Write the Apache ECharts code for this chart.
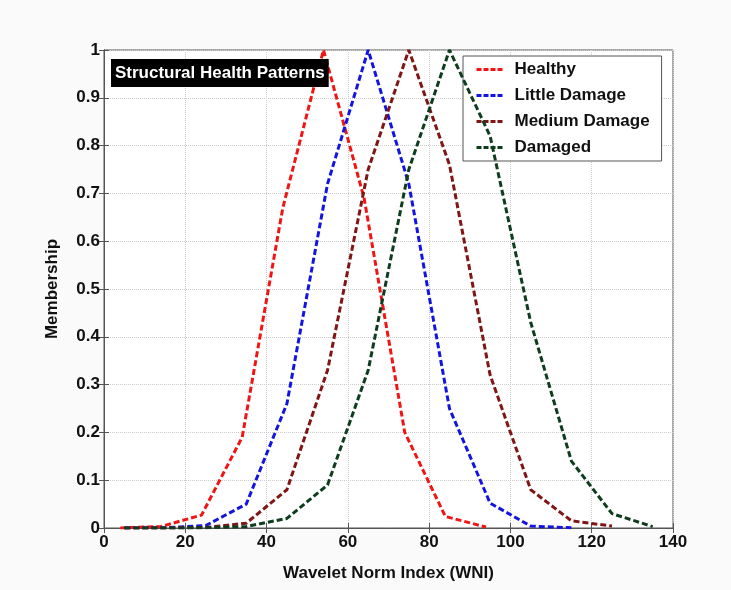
<!DOCTYPE html>
<html>
<head>
<meta charset="utf-8">
<script src="https://cdn.jsdelivr.net/npm/echarts@6/dist/echarts.min.js"></script>
<style>html,body{margin:0;padding:0;background:#fafafa;}#c{width:731px;height:590px;}</style>
</head>
<body>
<div id="c"></div>
<script>
const seriesNames = ['Healthy', 'Little Damage', 'Medium Damage', 'Damaged'];
const healthyX = [4, 14, 24, 34, 44, 54, 64, 74, 84, 94];
const healthyY = [0.0002, 0.003, 0.027, 0.19, 0.67, 1, 0.69, 0.2, 0.024, 0.002];
const littleX = [5, 15, 25, 35, 45, 55, 65, 75, 85, 95, 105, 115];
const littleY = [0, 0.0005, 0.005, 0.05, 0.26, 0.72, 1, 0.72, 0.25, 0.052, 0.004, 0.0005];
const mediumX = [5, 15, 25, 35, 45, 55, 65, 75, 85, 95, 105, 115, 125];
const mediumY = [0, 0, 0.001, 0.01, 0.08, 0.33, 0.75, 1, 0.76, 0.32, 0.08, 0.015, 0.004];
const damagedX = [5, 15, 25, 35, 45, 55, 65, 75, 85, 95, 105, 115, 125, 135];
const damagedY = [0, 0, 0.0005, 0.003, 0.02, 0.09, 0.33, 0.75, 1, 0.82, 0.43, 0.14, 0.03, 0.003];
const xTicks = [0, 20, 40, 60, 80, 100, 120, 140];
const colors = ['#f01515', '#1414e0', '#801515', '#0d3d1d'];

const pairs = (xs, ys) => xs.map((x, i) => [x, ys[i]]);
const allData = [pairs(healthyX, healthyY), pairs(littleX, littleY), pairs(mediumX, mediumY), pairs(damagedX, damagedY)];

const FONT = 'Liberation Sans, Arial, sans-serif';
const chart = echarts.init(document.getElementById('c'), null, {renderer: 'canvas'});
chart.setOption({
  backgroundColor: '#fafafa',
  animation: false,
  title: {
    text: 'Structural Health Patterns',
    left: 111, top: 59,
    backgroundColor: '#000',
    padding: [5, 4, 5, 4],
    textStyle: {color: '#fff', fontFamily: FONT, fontWeight: 'bold', fontSize: 17, lineHeight: 18}
  },
  legend: {
    data: seriesNames,
    orient: 'vertical',
    left: 463, top: 56,
    backgroundColor: '#fff',
    borderColor: '#555', borderWidth: 1,
    padding: [5, 12, 5, 12],
    itemWidth: 28, itemHeight: 14, itemGap: 9,
    itemStyle: {opacity: 0},
    lineStyle: {width: 3, type: [5, 2]},
    textStyle: {fontFamily: FONT, fontWeight: 'bold', fontSize: 17, color: '#111', padding: [0, 0, 0, 5]}
  },
  grid: {left: 104, right: 58, top: 50, bottom: 62, show: true, backgroundColor: '#fff', borderColor: '#555', borderWidth: 1},
  xAxis: [{
    type: 'value', min: 0, max: 140, interval: 20,
    name: 'Wavelet Norm Index (WNI)', nameLocation: 'middle', nameGap: 37,
    nameTextStyle: {fontFamily: FONT, fontWeight: 'bold', fontSize: 17, color: '#111'},
    axisLine: {lineStyle: {color: '#555'}},
    axisTick: {inside: true, length: 5, lineStyle: {color: '#555'}},
    axisLabel: {fontFamily: FONT, fontWeight: 'bold', fontSize: 17, color: '#111', margin: 6,
      formatter: v => xTicks.includes(v) ? String(v) : ''},
    splitLine: {show: true, lineStyle: {type: 'dotted', color: '#cccccc'}}
  }, {
    type: 'value', min: 0, max: 140, interval: 20, position: 'top',
    axisLine: {lineStyle: {color: '#555'}},
    axisTick: {inside: true, length: 5, lineStyle: {color: '#555'}},
    axisLabel: {show: false}, splitLine: {show: false}
  }],
  yAxis: [{
    type: 'value', min: 0, max: 1, interval: 0.1,
    name: 'Membership', nameLocation: 'middle', nameGap: 43,
    nameTextStyle: {fontFamily: FONT, fontWeight: 'bold', fontSize: 17, color: '#111'},
    axisLine: {show: true, lineStyle: {color: '#555'}},
    axisTick: {show: true, inside: true, length: 5, lineStyle: {color: '#555'}},
    axisLabel: {fontFamily: FONT, fontWeight: 'bold', fontSize: 17, color: '#111', margin: 4,
      formatter: v => (Math.abs(v - 1) < 1e-9 ? '1' : Math.abs(v) < 1e-9 ? '0' : v.toFixed(1))},
    splitLine: {show: true, lineStyle: {type: 'dotted', color: '#cccccc'}}
  }, {
    type: 'value', min: 0, max: 1, interval: 0.1, position: 'right',
    axisLine: {show: true, lineStyle: {color: '#555'}},
    axisTick: {show: true, inside: true, length: 5, lineStyle: {color: '#555'}},
    axisLabel: {show: false}, splitLine: {show: false}
  }],
  series: seriesNames.map((name, i) => ({
    name, type: 'line', data: allData[i], symbol: 'none', showSymbol: false,
    color: colors[i],
    lineStyle: {color: colors[i], width: 3, type: [6, 3]},
    z: 2 + i
  }))
});
</script>
</body>
</html>
